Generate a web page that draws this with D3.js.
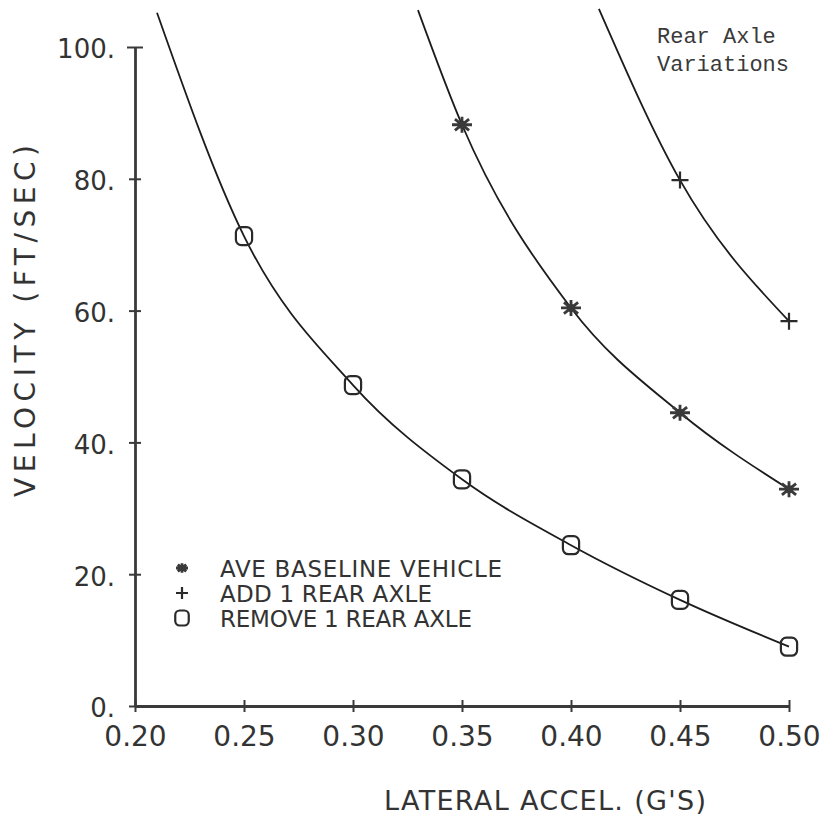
<!DOCTYPE html>
<html>
<head>
<meta charset="utf-8">
<script src="https://cdn.jsdelivr.net/npm/d3@7"></script>
<style>
  html, body { margin: 0; padding: 0; background: #ffffff; }
  svg { display: block; }
</style>
</head>
<body>
<svg id="chart" width="826" height="816"></svg>
<script>
// Axis ticks
const xTicks = [0.20, 0.25, 0.30, 0.35, 0.40, 0.45, 0.50];
const yTicks = [0, 20, 40, 60, 80, 100];

// Plotted points (lateral accel in g, velocity in ft/sec)
const baselinePts = [[0.35, 88.2], [0.40, 60.4], [0.45, 44.5], [0.50, 32.9]];
const addAxlePts = [[0.45, 79.8], [0.50, 58.4]];
const removeAxlePts = [[0.25, 71.3], [0.30, 48.7], [0.35, 34.4], [0.40, 24.4], [0.45, 16.1], [0.50, 9.0]];

// Fitted curves, including the part that runs off the top of the axis
const baselineCurve = [[0.3298, 105.6], [0.35, 88.2], [0.40, 60.4], [0.45, 44.5], [0.50, 32.9]];
const addAxleCurve = [[0.4128, 105.8], [0.45, 79.8], [0.50, 58.4]];
const removeAxleCurve = [[0.2101, 105.2], [0.25, 71.3], [0.30, 48.7], [0.35, 34.4], [0.40, 24.4], [0.45, 16.1], [0.50, 9.0]];

// Legend entries
const legendLabels = ["AVE BASELINE VEHICLE", "ADD 1 REAR AXLE", "REMOVE 1 REAR AXLE"];
const legendSymbols = ["star", "plus", "box"];
const legendWidths = [282, 212, 252];

const noteLines = ["Rear Axle", "Variations"];

const ink = "#333333";
const lineInk = "#1c1c1c";
const plotFont = "'DejaVu Sans', 'Liberation Sans', sans-serif";

const svg = d3.select("#chart");

const x = d3.scaleLinear().domain([0.20, 0.50]).range([135, 789]);
const y = d3.scaleLinear().domain([0, 100]).range([706, 47]);

// Axes
const xAxis = svg.append("g")
  .attr("transform", `translate(0,${y(0)})`)
  .call(d3.axisBottom(x).tickValues(xTicks).tickFormat(d3.format(".2f")).tickSizeOuter(0).tickSizeInner(6).tickPadding(14));
const yAxis = svg.append("g")
  .attr("transform", `translate(${x(0.20)},0)`)
  .call(d3.axisLeft(y).tickValues(yTicks).tickFormat(d => d + ".").tickSizeOuter(0).tickSizeInner(6).tickPadding(14));

[xAxis, yAxis].forEach(g => {
  g.select(".domain").attr("stroke", "#3a3a3a").attr("stroke-width", 2.8);
  g.selectAll(".tick line").attr("stroke", "#3a3a3a").attr("stroke-width", 2);
  g.selectAll("text").attr("fill", ink).attr("font-family", plotFont);
});
xAxis.selectAll(".tick line").attr("y1", -6).attr("y2", 6);
xAxis.selectAll("text").attr("font-size", 28).attr("dy", "0.72em");
yAxis.selectAll(".tick line").attr("x1", 6).attr("x2", -6);
yAxis.selectAll(".tick text").attr("font-size", 26).attr("dy", "0.42em");
yAxis.selectAll(".tick").filter(d => d === 100).select("line").attr("x1", 8).attr("x2", -8).attr("y1", 0).attr("y2", 0);

// Axis titles
svg.append("text")
  .attr("x", 545).attr("y", 810)
  .attr("text-anchor", "middle")
  .attr("font-family", plotFont).attr("font-size", 27).attr("fill", ink)
  .attr("textLength", 322).attr("lengthAdjust", "spacing")
  .text("LATERAL ACCEL. (G'S)");

svg.append("text")
  .attr("transform", "translate(35,321) rotate(-90)")
  .attr("text-anchor", "middle")
  .attr("font-family", plotFont).attr("font-size", 28).attr("fill", ink)
  .attr("textLength", 352).attr("lengthAdjust", "spacing")
  .text("VELOCITY (FT/SEC)");

// Curves
const line = d3.line().x(d => x(d[0])).y(d => y(d[1])).curve(d3.curveMonotoneX);
[baselineCurve, addAxleCurve, removeAxleCurve].forEach(c => {
  svg.append("path").attr("d", line(c))
    .attr("fill", "none").attr("stroke", lineInk).attr("stroke-width", 1.8);
});

// Marker drawing
function drawSymbol(g, type, cx, cy, s) {
  if (type === "box") {
    g.append("rect")
      .attr("x", cx - s * 0.45).attr("y", cy - s * 0.5)
      .attr("width", s * 0.9).attr("height", s)
      .attr("rx", s * 0.3).attr("ry", s * 0.3)
      .attr("fill", "none").attr("stroke", "#2a2a2a").attr("stroke-width", 2.2);
  } else if (type === "plus") {
    g.append("path")
      .attr("d", `M${cx - s / 2},${cy}H${cx + s / 2}M${cx},${cy - s / 2}V${cy + s / 2}`)
      .attr("stroke", "#2a2a2a").attr("stroke-width", 2.2).attr("fill", "none");
  } else {
    const r = s / 2;
    const arms = d3.range(4).map(i => {
      const a = i * Math.PI / 4;
      const dx = r * Math.cos(a), dy = r * 0.8 * Math.sin(a);
      return `M${cx - dx},${cy - dy}L${cx + dx},${cy + dy}`;
    }).join("");
    g.append("path").attr("d", arms)
      .attr("stroke", "#3a3a3a").attr("stroke-width", 2.8).attr("fill", "none");
    g.append("circle").attr("cx", cx).attr("cy", cy).attr("r", s * 0.2).attr("fill", "#3a3a3a");
  }
}

const marks = svg.append("g");
baselinePts.forEach(d => drawSymbol(marks, "star", x(d[0]), y(d[1]), 20));
addAxlePts.forEach(d => drawSymbol(marks, "plus", x(d[0]), y(d[1]), 17));
removeAxlePts.forEach(d => drawSymbol(marks, "box", x(d[0]), y(d[1]), 18));

// Legend
const legend = svg.append("g");
legendLabels.forEach((label, i) => {
  const cy = 568 + i * 25;
  drawSymbol(legend, legendSymbols[i], 182, cy, legendSymbols[i] === "box" ? 15 : 12);
  legend.append("text")
    .attr("x", 220).attr("y", cy + 9)
    .attr("font-family", plotFont).attr("font-size", 23).attr("fill", ink)
    .attr("textLength", legendWidths[i]).attr("lengthAdjust", "spacing")
    .text(label);
});

// Note in the upper right corner
svg.append("g").selectAll("text").data(noteLines).join("text")
  .attr("x", 657).attr("y", (d, i) => 43 + i * 28)
  .attr("font-family", "'Liberation Mono', 'DejaVu Sans Mono', monospace")
  .attr("font-size", 22).attr("fill", "#3a3a3a")
  .text(d => d);
</script>
</body>
</html>
